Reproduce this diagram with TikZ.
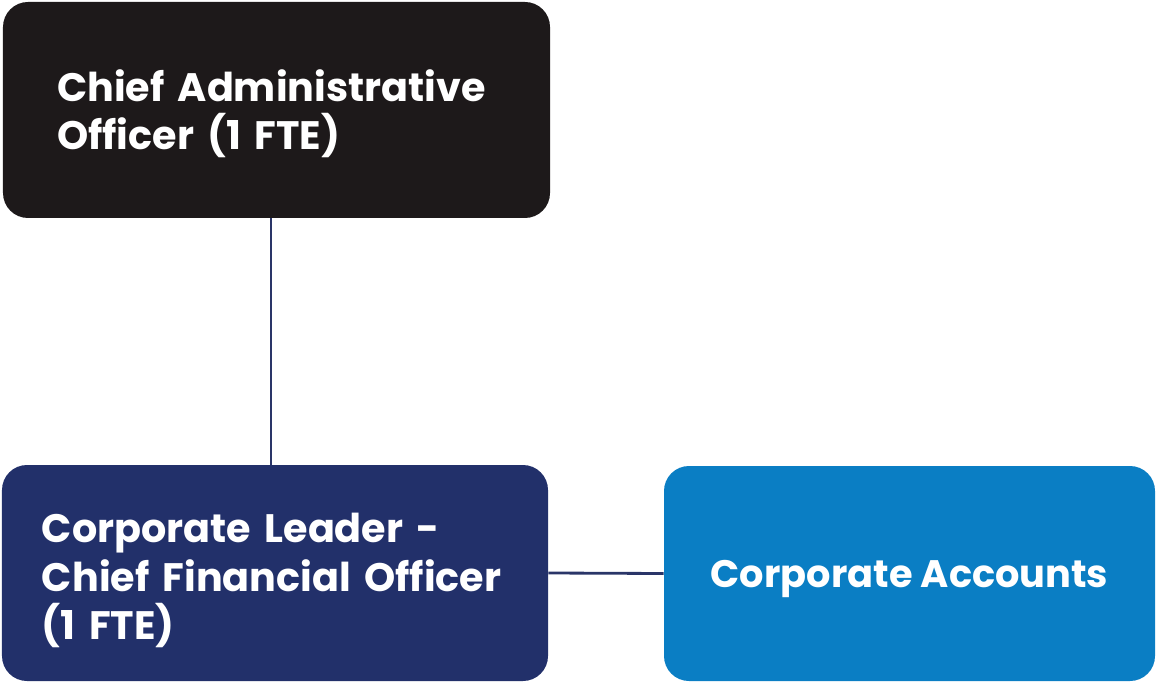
\documentclass[tikz,border=0pt]{standalone}
\usepackage{fontspec}
\setsansfont{Poppins}
\usepackage{xcolor}
\definecolor{caoblack}{HTML}{1D191A}
\definecolor{cfonavy}{HTML}{22306A}
\definecolor{accblue}{HTML}{0A7EC4}
\definecolor{linknavy}{HTML}{2A3568}
% taller first line, pushes the text block down a little
\newcommand{\firstline}[1]{\rule{0pt}{#1}}
\tikzset{org box/.style = {rectangle, rounded corners=0.5cm, text=white,
  font=\sffamily\bfseries\fontsize{22.6}{27.6}\selectfont, inner ysep=0pt},
  org link/.style = {draw=linknavy, line width=1.6pt}}

\begin{document}
\begin{tikzpicture}
  \useasboundingbox (0,0) rectangle (23.12,-13.66);
  \node[org box, fill=caoblack, minimum width=10.94cm, minimum height=4.32cm,
    inner xsep=1.08cm, text width=8.78cm, align=left,
    font=\sffamily\bfseries\fontsize{22.6}{26.8}\selectfont] (CAO) at (5.53,-2.2)
    {\firstline{0.99em}Chief Administrative\\Officer (1 FTE)};
  \node[org box, fill=cfonavy, minimum width=10.92cm, minimum height=4.32cm,
    inner xsep=0.8cm, text width=9.32cm, align=left] (CFO) at (5.5,-11.46)
    {\firstline{1.12em}Corporate Leader -\\Chief Financial Officer\\(1 FTE)};
  \node[org box, fill=accblue, minimum width=9.82cm, minimum height=4.3cm,
    align=center, text depth=0pt,
    font=\sffamily\bfseries\fontsize{21.8}{26}\selectfont] (CA) at (18.19,-11.47)
    {Corporate Accounts};
  \path[org link] ([xshift=-0.11cm]CAO.south) -- ([xshift=-0.11cm]CAO.south |- CFO.north);
  \path[org link] (CFO.east) -- (CA.west);
\end{tikzpicture}
\end{document}
